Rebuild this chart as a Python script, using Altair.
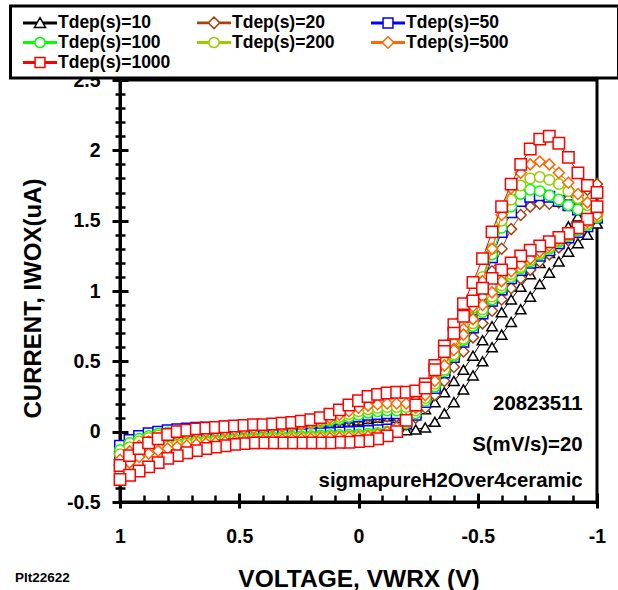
import altair as alt
import pandas as pd

FONT = "Liberation Sans"

# Voltage sweep grid (V), from +1.00 to -1.00
V = [1.00, 0.96, 0.92, 0.88, 0.84, 0.80, 0.76, 0.72, 0.68, 0.64,
     0.60, 0.56, 0.52, 0.48, 0.44, 0.40, 0.36, 0.32, 0.28, 0.24,
     0.20, 0.16, 0.12, 0.08, 0.04, 0.00, -0.04, -0.08, -0.12, -0.16,
     -0.20, -0.24, -0.28, -0.32, -0.36, -0.40, -0.44, -0.48, -0.52, -0.56,
     -0.60, -0.64, -0.68, -0.72, -0.76, -0.80, -0.84, -0.88, -0.92, -0.96,
     -1.00]

SERIES = ["Tdep(s)=10", "Tdep(s)=20", "Tdep(s)=50", "Tdep(s)=100",
          "Tdep(s)=200", "Tdep(s)=500", "Tdep(s)=1000"]
COLORS = ["#000000", "#A5420F", "#0000FF", "#00FF00", "#99CC00", "#FF6600", "#FF0000"]
SHAPES = ["triangle-up", "diamond", "square", "circle", "circle", "diamond", "square"]
SIZES = [110, 120, 110, 110, 110, 120, 130]

# upper branch (hump + oxidation peak) and lower branch, both listed on grid V
UP_10 = [-0.12, -0.07, -0.04, -0.02, -0.005, 0.005, 0.01, 0.015, 0.02, 0.022,
         0.025, 0.027, 0.03, 0.032, 0.034, 0.036, 0.038, 0.04, 0.043, 0.047,
         0.05, 0.053, 0.056, 0.06, 0.07, 0.08, 0.09, 0.10, 0.11, 0.115,
         0.12, 0.135, 0.16, 0.21, 0.28, 0.36, 0.44, 0.54, 0.65, 0.75,
         0.85, 0.94, 1.03, 1.12, 1.20, 1.27, 1.35, 1.46, 1.53, 1.57, 1.60]
LO_10 = [-0.20, -0.16, -0.13, -0.10, -0.085, -0.07, -0.06, -0.05, -0.045, -0.04,
         -0.035, -0.03, -0.025, -0.02, -0.015, -0.01, -0.005, 0.0, 0.005, 0.007,
         0.01, 0.012, 0.015, 0.015, 0.015, 0.014, 0.012, 0.01, 0.01, 0.01,
         0.01, 0.015, 0.03, 0.07, 0.13, 0.21, 0.30, 0.40, 0.50, 0.60,
         0.69, 0.78, 0.87, 0.96, 1.05, 1.13, 1.21, 1.28, 1.34, 1.40, 1.48]

UP_20 = [-0.14, -0.09, -0.055, -0.03, -0.015, -0.005, 0.0, 0.005, 0.01, 0.015,
         0.02, 0.022, 0.025, 0.028, 0.03, 0.033, 0.036, 0.04, 0.043, 0.047,
         0.052, 0.058, 0.065, 0.075, 0.085, 0.095, 0.10, 0.105, 0.11, 0.11,
         0.12, 0.15, 0.21, 0.30, 0.40, 0.52, 0.65, 0.80, 0.96, 1.14,
         1.30, 1.44, 1.54, 1.60, 1.62, 1.62, 1.63, 1.65, 1.68, 1.72, 1.76]
LO_20 = [-0.24, -0.19, -0.15, -0.12, -0.10, -0.085, -0.075, -0.065, -0.06, -0.055,
         -0.05, -0.045, -0.04, -0.038, -0.035, -0.032, -0.03, -0.027, -0.025, -0.022,
         -0.02, -0.017, -0.015, -0.012, -0.01, -0.005, 0.0, 0.005, 0.01, 0.02,
         0.05, 0.10, 0.17, 0.26, 0.36, 0.46, 0.57, 0.67, 0.77, 0.86,
         0.94, 1.02, 1.09, 1.15, 1.21, 1.26, 1.31, 1.36, 1.41, 1.47, 1.55]

UP_50 = [-0.10, -0.06, -0.03, -0.012, 0.0, 0.01, 0.017, 0.022, 0.027, 0.03,
         0.033, 0.036, 0.039, 0.042, 0.045, 0.048, 0.051, 0.054, 0.057, 0.061,
         0.066, 0.072, 0.08, 0.09, 0.10, 0.11, 0.12, 0.125, 0.13, 0.13,
         0.135, 0.16, 0.23, 0.33, 0.44, 0.57, 0.71, 0.87, 1.04, 1.24,
         1.42, 1.56, 1.64, 1.67, 1.68, 1.67, 1.64, 1.61, 1.58, 1.56, 1.55]
LO_50 = [-0.18, -0.15, -0.125, -0.105, -0.09, -0.08, -0.07, -0.064, -0.058, -0.053,
         -0.048, -0.044, -0.04, -0.036, -0.033, -0.03, -0.027, -0.024, -0.021, -0.018,
         -0.015, -0.012, -0.009, -0.006, -0.003, 0.0, 0.005, 0.01, 0.015, 0.03,
         0.06, 0.12, 0.21, 0.31, 0.42, 0.53, 0.64, 0.74, 0.84, 0.93,
         1.01, 1.09, 1.15, 1.20, 1.25, 1.29, 1.34, 1.38, 1.42, 1.46, 1.52]

UP_100 = [-0.13, -0.08, -0.05, -0.03, -0.015, -0.005, 0.003, 0.01, 0.015, 0.02,
          0.024, 0.028, 0.032, 0.035, 0.038, 0.041, 0.044, 0.047, 0.05, 0.054,
          0.06, 0.067, 0.077, 0.09, 0.105, 0.12, 0.135, 0.145, 0.15, 0.15,
          0.15, 0.17, 0.24, 0.34, 0.45, 0.58, 0.72, 0.88, 1.06, 1.26,
          1.45, 1.60, 1.69, 1.72, 1.71, 1.68, 1.65, 1.61, 1.58, 1.56, 1.54]
LO_100 = [-0.21, -0.17, -0.14, -0.12, -0.105, -0.093, -0.083, -0.075, -0.068, -0.063,
          -0.058, -0.054, -0.05, -0.046, -0.043, -0.04, -0.038, -0.036, -0.034, -0.032,
          -0.03, -0.028, -0.026, -0.024, -0.022, -0.02, -0.015, -0.01, 0.0, 0.02,
          0.06, 0.13, 0.22, 0.32, 0.43, 0.54, 0.65, 0.75, 0.85, 0.94,
          1.02, 1.10, 1.16, 1.21, 1.26, 1.30, 1.35, 1.39, 1.43, 1.47, 1.52]

UP_200 = [-0.16, -0.11, -0.07, -0.045, -0.028, -0.015, -0.006, 0.0, 0.006, 0.011,
          0.016, 0.02, 0.024, 0.028, 0.032, 0.036, 0.04, 0.044, 0.048, 0.054,
          0.062, 0.073, 0.088, 0.105, 0.125, 0.145, 0.16, 0.17, 0.175, 0.175,
          0.175, 0.20, 0.27, 0.37, 0.49, 0.62, 0.76, 0.92, 1.10, 1.30,
          1.50, 1.65, 1.75, 1.80, 1.81, 1.79, 1.76, 1.71, 1.66, 1.61, 1.57]
LO_200 = [-0.25, -0.20, -0.16, -0.14, -0.12, -0.105, -0.095, -0.086, -0.079, -0.073,
          -0.068, -0.064, -0.06, -0.056, -0.053, -0.05, -0.048, -0.046, -0.044, -0.042,
          -0.04, -0.038, -0.036, -0.034, -0.032, -0.03, -0.025, -0.02, -0.005, 0.02,
          0.07, 0.15, 0.24, 0.34, 0.44, 0.55, 0.66, 0.77, 0.87, 0.96,
          1.04, 1.12, 1.17, 1.22, 1.27, 1.31, 1.36, 1.40, 1.44, 1.48, 1.53]

UP_500 = [-0.20, -0.14, -0.10, -0.07, -0.048, -0.032, -0.02, -0.012, -0.005, 0.0,
          0.005, 0.01, 0.015, 0.02, 0.025, 0.03, 0.035, 0.04, 0.045, 0.053,
          0.063, 0.077, 0.095, 0.12, 0.145, 0.17, 0.185, 0.195, 0.20, 0.20,
          0.20, 0.22, 0.28, 0.37, 0.47, 0.59, 0.73, 0.89, 1.07, 1.30,
          1.54, 1.73, 1.84, 1.90, 1.92, 1.90, 1.84, 1.77, 1.69, 1.63, 1.58]
LO_500 = [-0.29, -0.22, -0.18, -0.155, -0.135, -0.12, -0.108, -0.098, -0.09, -0.083,
          -0.077, -0.072, -0.068, -0.064, -0.061, -0.058, -0.056, -0.054, -0.052, -0.05,
          -0.048, -0.046, -0.044, -0.042, -0.04, -0.038, -0.032, -0.02, 0.0, 0.03,
          0.09, 0.17, 0.26, 0.36, 0.47, 0.58, 0.69, 0.80, 0.90, 0.99,
          1.07, 1.14, 1.19, 1.23, 1.28, 1.32, 1.37, 1.41, 1.45, 1.49, 1.54]

UP_1000 = [-0.24, -0.17, -0.12, -0.08, -0.05, -0.02, 0.0, 0.01, 0.02, 0.025,
           0.03, 0.035, 0.04, 0.045, 0.05, 0.05, 0.055, 0.06, 0.065, 0.075,
           0.085, 0.10, 0.125, 0.155, 0.19, 0.22, 0.25, 0.265, 0.275, 0.28,
           0.28, 0.29, 0.34, 0.47, 0.61, 0.76, 0.91, 1.06, 1.23, 1.42,
           1.60, 1.76, 1.90, 2.01, 2.08, 2.10, 2.05, 1.95, 1.84, 1.75, 1.70]
LO_1000 = [-0.34, -0.31, -0.28, -0.25, -0.22, -0.19, -0.17, -0.15, -0.135, -0.12,
           -0.11, -0.10, -0.09, -0.085, -0.08, -0.08, -0.08, -0.08, -0.08, -0.08,
           -0.08, -0.08, -0.08, -0.075, -0.075, -0.07, -0.065, -0.05, -0.03, 0.0,
           0.08, 0.19, 0.31, 0.44, 0.57, 0.70, 0.82, 0.93, 1.02, 1.09,
           1.15, 1.20, 1.25, 1.29, 1.32, 1.35, 1.38, 1.41, 1.45, 1.51, 1.60]

UPPER = [UP_10, UP_20, UP_50, UP_100, UP_200, UP_500, UP_1000]
LOWER = [LO_10, LO_20, LO_50, LO_100, LO_200, LO_500, LO_1000]

X_MAJOR = [1, 0.5, 0, -0.5, -1]
X_MINOR = [0.9, 0.8, 0.7, 0.6, 0.4, 0.3, 0.2, 0.1, -0.1, -0.2, -0.3, -0.4,
           -0.6, -0.7, -0.8, -0.9]
Y_MAJOR = [-0.5, 0, 0.5, 1, 1.5, 2, 2.5]
Y_MINOR = [-0.4, -0.3, -0.2, -0.1, 0.1, 0.2, 0.3, 0.4, 0.6, 0.7, 0.8, 0.9,
           1.1, 1.2, 1.3, 1.4, 1.6, 1.7, 1.8, 1.9, 2.1, 2.2, 2.3, 2.4]

NOTES = ["20823511", "S(mV/s)=20", "sigmapureH2Over4ceramic"]
NOTE_V = [-0.94, -0.94, -0.94]
NOTE_I = [0.154, -0.135, -0.39]

# ---------- build tables ----------
rows = []
for s, name in enumerate(SERIES):
    n = len(V)
    for k in range(n):
        rows.append({"series": name, "v": V[k], "i": UPPER[s][k], "idx": k})
    for j, k in enumerate(range(n - 1, -1, -1)):
        rows.append({"series": name, "v": V[k], "i": LOWER[s][k], "idx": n + j})
df = pd.DataFrame(rows)

xs = alt.Scale(domain=[1, -1], nice=False, zero=False)
ys = alt.Scale(domain=[-0.5, 2.5], nice=False, zero=False)

lab = dict(labelFont=FONT, labelFontSize=19.5, labelFontWeight="bold", labelColor="black")
ttl = dict(titleFont=FONT, titleFontWeight="bold", titleColor="black")

x_main = alt.Axis(values=X_MAJOR, orient="bottom", ticks=False, tickSize=0, domain=True,
                  domainWidth=3, domainColor="black", labelPadding=25,
                  labelExpr="'' + datum.value", labelFlush=False, labelOverlap=False,
                  grid=False, title="VOLTAGE, VWRX (V)", titleY=84, titleFontSize=24.5,
                  titleBaseline="alphabetic", **lab, **ttl)
y_main = alt.Axis(values=Y_MAJOR, orient="left", ticks=False, tickSize=0, domain=True,
                  domainWidth=3, domainColor="black", labelPadding=20,
                  labelExpr="'' + datum.value", labelFlush=False, labelOverlap=False,
                  grid=False, title="CURRENT, IWOX(uA)", titleX=-87, titleY=218,
                  titleFontSize=24, titleAngle=270, titleBaseline="middle",
                  titleAlign="center", **lab, **ttl)

layers = []
for s, name in enumerate(SERIES):
    base = alt.Chart(df).transform_filter(alt.datum.series == name)
    if s == 0:
        ex = alt.X("v:Q", scale=xs, axis=x_main)
        ey = alt.Y("i:Q", scale=ys, axis=y_main)
    else:
        ex = alt.X("v:Q", scale=xs, axis=None)
        ey = alt.Y("i:Q", scale=ys, axis=None)
    line = base.mark_line(color=COLORS[s], strokeWidth=1).encode(
        x=ex, y=ey, order=alt.Order("idx:Q"))
    pts = base.mark_point(shape=SHAPES[s], size=SIZES[s], filled=False, fill="white",
                          stroke=COLORS[s], strokeWidth=1.5, opacity=1).encode(
        x=alt.X("v:Q", scale=xs, axis=None), y=alt.Y("i:Q", scale=ys, axis=None))
    layers += [line, pts]

# extra tick axes (major crossing ticks, minor ticks)
one = pd.DataFrame({"v": [0.0], "i": [0.0]})
noaxis = dict(domain=False, labels=False, title=None, grid=False, tickColor="black")
major = alt.Chart(one).mark_point(opacity=0).encode(
    x=alt.X("v:Q", scale=xs, axis=alt.Axis(values=X_MAJOR, orient="bottom", offset=-9,
                                            tickSize=15, tickWidth=3, **noaxis)),
    y=alt.Y("i:Q", scale=ys, axis=alt.Axis(values=Y_MAJOR, orient="left", offset=-8,
                                            tickSize=16, tickWidth=3, **noaxis)))
minor = alt.Chart(one).mark_point(opacity=0).encode(
    x=alt.X("v:Q", scale=xs, axis=alt.Axis(values=X_MINOR, orient="bottom", offset=-7,
                                            tickSize=7, tickWidth=2.5, **noaxis)),
    y=alt.Y("i:Q", scale=ys, axis=alt.Axis(values=Y_MINOR, orient="left", offset=-5,
                                            tickSize=10, tickWidth=2.5, **noaxis)))

# annotations
notes = pd.DataFrame({"v": NOTE_V, "i": NOTE_I, "t": NOTES})
note_layer = alt.Chart(notes).mark_text(align="right", baseline="alphabetic", font=FONT,
                                        fontSize=20.4, fontWeight="bold", color="black").encode(
    x=alt.X("v:Q", scale=xs, axis=None), y=alt.Y("i:Q", scale=ys, axis=None), text="t:N")
plt_df = pd.DataFrame({"v": [1.44], "i": [-1.04], "t": ["Plt22622"]})
plt_layer = alt.Chart(plt_df).mark_text(align="left", baseline="middle", font=FONT,
                                        fontSize=13.5, fontWeight="bold", color="black").encode(
    x=alt.X("v:Q", scale=xs, axis=None), y=alt.Y("i:Q", scale=ys, axis=None), text="t:N")

# legend (line + marker symbols)
LEG_PATHS = [
    "M-2,-0.08H-0.35M-2,0.08H-0.35M0.35,-0.08H2M0.35,0.08H2M0,-0.62L0.65,0.52L-0.65,0.52Z",
    "M-2,-0.08H-0.68M-2,0.08H-0.68M0.68,-0.08H2M0.68,0.08H2M0,-0.68L0.68,0L0,0.68L-0.68,0Z",
    "M-2,-0.08H-0.58M-2,0.08H-0.58M0.58,-0.08H2M0.58,0.08H2M-0.58,-0.58H0.58V0.58H-0.58Z",
    "M-2,-0.08H-0.6M-2,0.08H-0.6M0.6,-0.08H2M0.6,0.08H2M-0.6,0A0.6,0.6 0 1,0 0.6,0A0.6,0.6 0 1,0 -0.6,0Z",
    "M-2,-0.08H-0.6M-2,0.08H-0.6M0.6,-0.08H2M0.6,0.08H2M-0.6,0A0.6,0.6 0 1,0 0.6,0A0.6,0.6 0 1,0 -0.6,0Z",
    "M-2,-0.08H-0.68M-2,0.08H-0.68M0.68,-0.08H2M0.68,0.08H2M0,-0.68L0.68,0L0,0.68L-0.68,0Z",
    "M-2,-0.08H-0.58M-2,0.08H-0.58M0.58,-0.08H2M0.58,0.08H2M-0.58,-0.58H0.58V0.58H-0.58Z",
]
# an invisible (white) spacer title stretches the legend box to the right edge
leg = alt.Legend(title="MMMMMMM", titleOrient="right", titleColor="white",
                 titleFontSize=17.5, titlePadding=0,
                 orient="none", legendX=-109.5, legendY=-74, columns=3,
                 direction="horizontal", gridAlign="all", columnPadding=21, rowPadding=1,
                 padding=7, strokeColor="black", fillColor="white",
                 labelFont=FONT, labelFontSize=17.5, labelFontWeight="bold", labelColor="black",
                 labelOffset=8.5, labelLimit=800,
                 symbolSize=289, symbolStrokeWidth=1.5, symbolOffset=13, symbolOpacity=1,
                 symbolFillColor="white")
leg_df = pd.DataFrame({"series": SERIES})
legend_layer = alt.Chart(leg_df).mark_point(opacity=0, filled=False, fill="white",
                                            strokeWidth=1.5).encode(
    shape=alt.Shape("series:N", scale=alt.Scale(domain=SERIES, range=LEG_PATHS), legend=leg),
    stroke=alt.Stroke("series:N", scale=alt.Scale(domain=SERIES, range=COLORS), legend=leg),
)

chart = alt.layer(major, minor, *layers, note_layer, plt_layer, legend_layer).resolve_axis(
    x="independent", y="independent"
).properties(
    width=477, height=422,
    autosize=alt.AutoSizeParams(type="none"),
    padding={"left": 120, "top": 80, "right": 21, "bottom": 88},
).configure_view(
    stroke="black", strokeWidth=3
).configure_legend(
    strokeWidth=3
)

chart.save("out.html", embed_options={"renderer": "svg", "actions": False})
